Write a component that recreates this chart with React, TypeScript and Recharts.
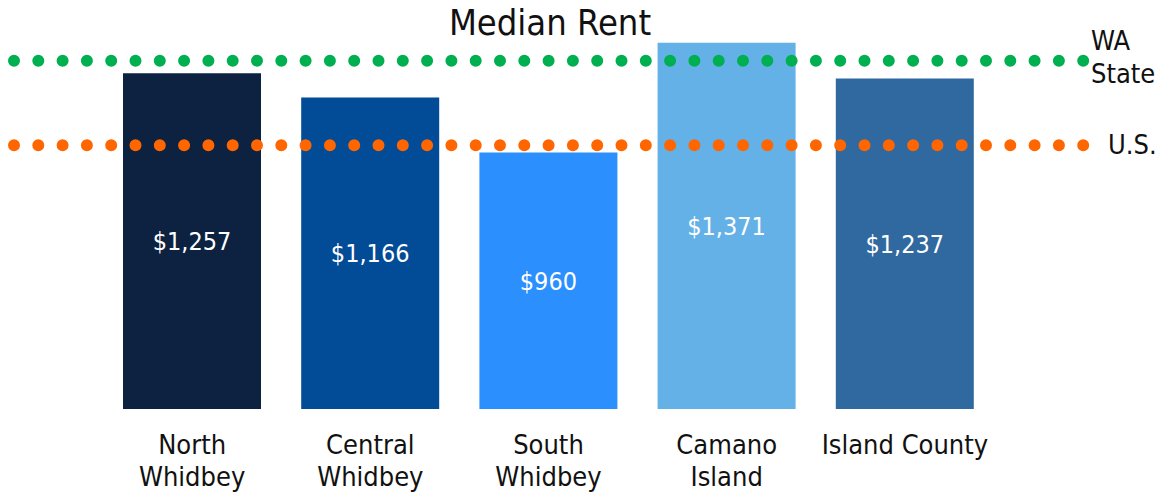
import React from 'react';
import { BarChart, Bar, XAxis, YAxis, ReferenceLine, Cell, LabelList } from 'recharts';

const categories = ['North\nWhidbey', 'Central\nWhidbey', 'South\nWhidbey', 'Camano\nIsland', 'Island County'];
const medianRent = [1257, 1166, 960, 1371, 1237];
const barColors = ['#0c2240', '#014b97', '#2b8ffe', '#64b1e7', '#2f69a0'];
const waStateRent = 1304;
const usRent = 987;
const refLabels = { wa: ['WA', 'State'], us: ['U.S.'] };

const FONT = '"DejaVu Sans Condensed", "DejaVu Sans", Tahoma, sans-serif';

const data = categories.map((c, i) => ({ name: c, rent: medianRent[i] }));

const fmt = (v: number) => '$' + v.toLocaleString('en-US');

const Tick = (props: any) => {
  const { x, y, payload } = props;
  const lines = String(payload.value).split('\n');
  return (
    <text x={x} y={y} textAnchor="middle" fill="#111" fontSize={27} fontFamily={FONT}>
      {lines.map((l, i) => (
        <tspan key={i} x={x} dy={i === 0 ? 45 : 32}>
          {l}
        </tspan>
      ))}
    </text>
  );
};

const DotLine = (color: string) => (p: any) => (
  <line
    x1={p.x1}
    y1={p.y1}
    x2={p.x2}
    y2={p.y2}
    stroke={color}
    strokeWidth={12}
    strokeLinecap="round"
    strokeDasharray="0 24.3"
  />
);

const RefLabel = (lines: string[], offset: number, shiftY: number) => (p: any) => {
  const vb = p.viewBox || {};
  const x = (vb.x || 0) + (vb.width || 0) + offset;
  const y = (vb.y || 0) + shiftY;
  const start = y - ((lines.length - 1) * 33) / 2;
  return (
    <text fill="#111" fontSize={27} fontFamily={FONT} textAnchor="start" dominantBaseline="central">
      {lines.map((l, i) => (
        <tspan key={i} x={x} y={start + i * 33}>
          {l}
        </tspan>
      ))}
    </text>
  );
};

export default function App() {
  return (
    <div style={{ position: 'relative', width: 1151, height: 485, fontFamily: FONT }}>
      <div
        style={{
          position: 'absolute',
          left: 6,
          width: 1072,
          top: -7,
          textAlign: 'center',
          fontSize: 36,
          color: '#111',
          fontFamily: FONT,
          lineHeight: '44px',
        }}
      >
        Median Rent
      </div>
      <BarChart
        width={1151}
        height={485}
        data={data}
        margin={{ top: 27, right: 73, left: 6, bottom: 0 }}
        barCategoryGap={20}
      >
        <XAxis
          dataKey="name"
          axisLine={false}
          tickLine={false}
          tickSize={0}
          tickMargin={0}
          height={84}
          interval={0}
          padding={{ left: 89, right: 92 }}
          tick={<Tick />}
        />
        <YAxis hide domain={[0, 1400]} />
        <Bar dataKey="rent" isAnimationActive={false}>
          {data.map((d, i) => (
            <Cell key={i} fill={barColors[i]} />
          ))}
          <LabelList
            dataKey="rent"
            position="center"
            fill="#ffffff"
            fontSize={25}
            fontFamily={FONT}
            formatter={(v: any) => fmt(Number(v))}
          />
        </Bar>
        <ReferenceLine
          y={waStateRent}
          shape={DotLine('#00b050')}
          label={RefLabel(refLabels.wa, 5, -4)}
          ifOverflow="visible"
        />
        <ReferenceLine
          y={usRent}
          shape={DotLine('#ff6600')}
          label={RefLabel(refLabels.us, 22, -1)}
          ifOverflow="visible"
        />
      </BarChart>
    </div>
  );
}
